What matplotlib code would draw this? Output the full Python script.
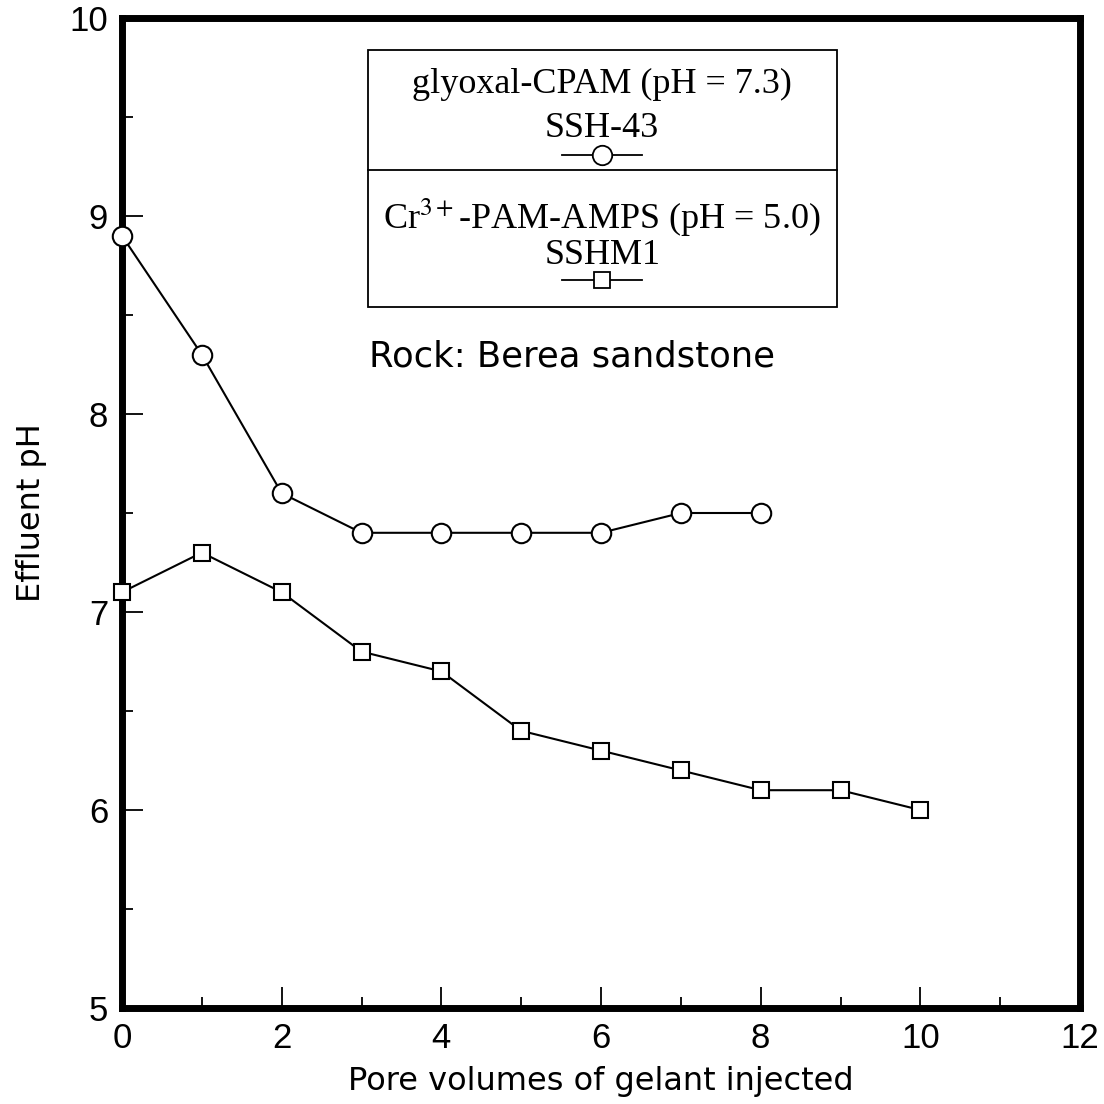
import matplotlib
matplotlib.use("Agg")
import matplotlib.pyplot as plt
from matplotlib.patches import Rectangle
from matplotlib.lines import Line2D
from matplotlib.ticker import MultipleLocator

# Effluent pH versus pore volumes injected
pv_glyoxal = [0, 1, 2, 3, 4, 5, 6, 7, 8]
ph_glyoxal = [8.9, 8.3, 7.6, 7.4, 7.4, 7.4, 7.4, 7.5, 7.5]

pv_cr = [0, 1, 2, 3, 4, 5, 6, 7, 8, 9, 10]
ph_cr = [7.1, 7.3, 7.1, 6.8, 6.7, 6.4, 6.3, 6.2, 6.1, 6.1, 6.0]

x_ticks = [0, 2, 4, 6, 8, 10, 12]
y_ticks = [5, 6, 7, 8, 9, 10]

tick_font = ["Liberation Sans", "DejaVu Sans"]
label_font = ["DejaVu Sans"]
serif = ["Liberation Serif", "DejaVu Serif"]

fig = plt.figure(figsize=(11.04, 11.04), dpi=100)
ax = fig.add_axes([122 / 1104, 1 - 1008 / 1104, 958 / 1104, 990 / 1104])

ax.plot(pv_glyoxal, ph_glyoxal, color="black", lw=1.5, marker="o", ms=14,
        mfc="white", mec="black", mew=1.5, clip_on=False, zorder=3)
ax.plot(pv_cr, ph_cr, color="black", lw=1.5, marker="s", ms=11.5,
        mfc="white", mec="black", mew=1.5, clip_on=False, zorder=3)

ax.set_xlim(0, 12)
ax.set_ylim(5, 10)
ax.set_xticks(x_ticks)
ax.set_yticks(y_ticks)
ax.xaxis.set_minor_locator(MultipleLocator(1))
ax.yaxis.set_minor_locator(MultipleLocator(0.5))
ax.tick_params(which="both", direction="in", width=1.3, labelsize=25,
               top=False, right=False)
ax.tick_params(which="major", length=15, pad=10)
ax.tick_params(which="minor", length=8)
for lab in ax.get_xticklabels() + ax.get_yticklabels():
    lab.set_fontfamily(tick_font)
for sp in ax.spines.values():
    sp.set_linewidth(5)

ax.set_xlabel("Pore volumes of gelant injected", fontsize=23,
              family=label_font, labelpad=8)
ax.set_ylabel("Effluent pH", fontsize=23, family=label_font, labelpad=16)

# Boxed key with two stacked entries
bx0, bx1 = 3.08, 8.95
by0, bmid, by1 = 8.54, 9.232, 9.838
ax.add_patch(Rectangle((bx0, by0), bx1 - bx0, by1 - by0, fill=False,
                       ec="black", lw=1.3, zorder=4))
ax.plot([bx0, bx1], [bmid, bmid], color="black", lw=1.3, zorder=4)
cx = (bx0 + bx1) / 2
ax.text(cx, 9.662, "glyoxal-CPAM (pH = 7.3)", ha="center", va="center",
        fontsize=26, family=serif)
ax.text(cx, 9.444, "SSH-43", ha="center", va="center", fontsize=26,
        family=serif)
ax.add_line(Line2D([cx - 0.5, cx, cx + 0.5], [9.308] * 3, color="black",
                   lw=1.3, marker="o", markevery=[1], ms=14, mfc="white",
                   mec="black", mew=1.3, zorder=5))
ax.text(cx, 8.99, r"Cr$^{3+}$-PAM-AMPS (pH = 5.0)", ha="center",
        va="center", fontsize=26, family=serif, math_fontfamily="stix")
ax.text(cx, 8.803, "SSHM1", ha="center", va="center", fontsize=26,
        family=serif)
ax.add_line(Line2D([cx - 0.5, cx, cx + 0.5], [8.677] * 3, color="black",
                   lw=1.3, marker="s", markevery=[1], ms=11, mfc="white",
                   mec="black", mew=1.3, zorder=5))

ax.text(3.1, 8.29, "Rock: Berea sandstone", ha="left", va="center",
        fontsize=25.5, family=label_font)

fig.savefig("out.png", dpi=100, facecolor="white")
